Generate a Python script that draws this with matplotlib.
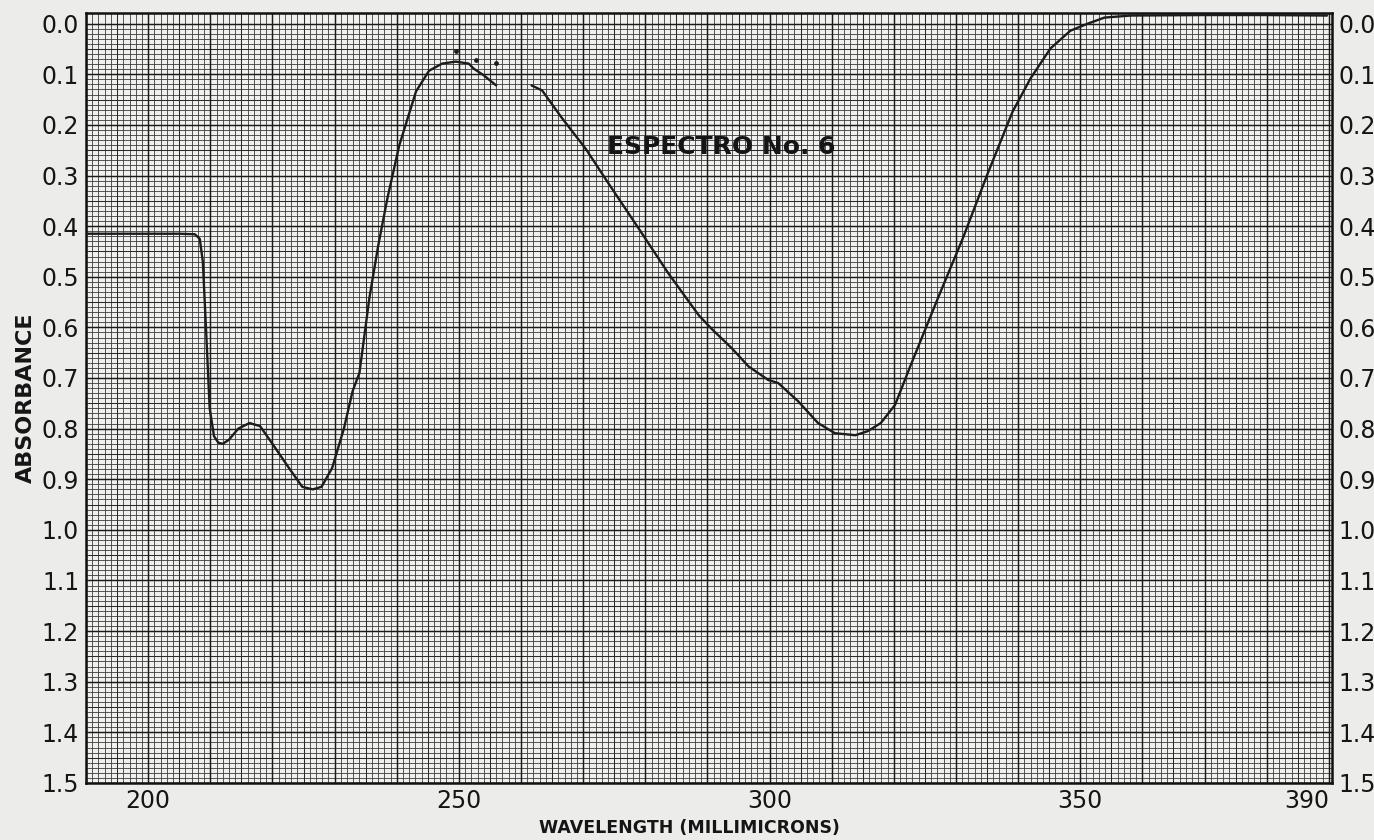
import matplotlib
matplotlib.use("Agg")
import matplotlib.pyplot as plt
import numpy as np

# trace (wavelength in nm, absorbance)
seg1_wl = [190.0, 205.0, 207.5, 208.3, 208.8, 209.3, 209.9, 210.6, 211.3, 212.0, 213.0,
           214.5, 216.3, 218.0, 220.0, 222.5, 224.8, 226.5, 227.9, 229.6, 231.5,
           232.9, 234.0, 235.6, 237.0, 238.5, 240.4, 243.1, 245.2, 247.3, 249.5,
           251.6, 252.4, 254.0, 256.0]
seg1_abs = [0.415, 0.415, 0.416, 0.425, 0.47, 0.60, 0.76, 0.815, 0.828, 0.83, 0.822,
            0.80, 0.789, 0.795, 0.83, 0.875, 0.915, 0.92, 0.915, 0.878, 0.80,
            0.726, 0.69, 0.542, 0.44, 0.345, 0.241, 0.134, 0.093, 0.079, 0.075,
            0.079, 0.089, 0.102, 0.122]

seg2_wl = [261.7, 263.4, 266.5, 270.4, 274.1, 278.9, 283.7, 288.6, 290.6, 293.9,
           296.6, 299.8, 301.4, 304.6, 307.8, 310.5, 313.8, 315.8, 317.9, 320.2,
           322.7, 327.1, 331.1, 335.1, 339.1, 342.0, 345.2, 348.4, 351.2, 353.9,
           358.1, 370.0, 380.0, 389.7]
seg2_abs = [0.122, 0.132, 0.185, 0.247, 0.316, 0.404, 0.493, 0.576, 0.602, 0.641,
            0.677, 0.704, 0.710, 0.746, 0.789, 0.809, 0.813, 0.805, 0.789, 0.753,
            0.675, 0.542, 0.424, 0.296, 0.174, 0.108, 0.049, 0.014, 0.0, -0.012,
            -0.016, -0.017, -0.017, -0.016]

# stray pen dots near the peak
dot_wl = [249.5, 252.8, 256.0]
dot_abs = [0.055, 0.071, 0.077]

x_ticks = [200, 250, 300, 350, 390]
y_ticks = [round(0.1 * i, 1) for i in range(16)]

paper = "#ececea"
ink = "#1c1c1c"

fig = plt.figure(figsize=(13.74, 8.4), dpi=100, facecolor=paper)
ax = fig.add_axes([0.0626, 0.0679, 0.9068, 0.9166])
ax.set_facecolor("#f0f0ee")
ax.set_xlim(190, 390.5)
ax.set_ylim(1.5, -0.021)

# graph paper grid: 1 nm / 0.01 fine, 5 / 0.05 medium, 10 / 0.1 heavy
ax.vlines(np.arange(190, 391, 1), -0.03, 1.55, color="#3c3c3c", lw=0.6, zorder=1)
ax.hlines(np.arange(0, 1.501, 0.01), 189, 392, color="#3c3c3c", lw=0.6, zorder=1)
ax.vlines(np.arange(195, 391, 10), -0.03, 1.55, color="#2a2a2a", lw=0.75, zorder=1)
ax.hlines(np.arange(0.05, 1.5, 0.1), 189, 392, color="#2a2a2a", lw=0.75, zorder=1)
ax.vlines(np.arange(190, 391, 10), -0.03, 1.55, color="#1a1a1a", lw=1.05, zorder=1)
ax.hlines(np.arange(0, 1.501, 0.1), 189, 392, color="#1a1a1a", lw=1.05, zorder=1)

ax.plot(seg1_wl, seg1_abs, color=ink, lw=1.7, zorder=3, solid_capstyle="round")
ax.plot(seg2_wl, seg2_abs, color=ink, lw=1.7, zorder=3, solid_capstyle="round")
ax.scatter(dot_wl, dot_abs, s=6, color=ink, zorder=3)

for s in ax.spines.values():
    s.set_linewidth(1.8)
    s.set_color("#111111")

ax.set_xticks(x_ticks)
ax.set_xticklabels([str(t) for t in x_ticks])
ax.get_xticklabels()[-1].set_ha("right")
ax.set_yticks(y_ticks)
ax.set_yticklabels([f"{t:.1f}" for t in y_ticks])
ax.tick_params(axis="both", length=0, labelsize=17, colors="#151515")
ax.tick_params(axis="x", pad=4)
ax.tick_params(axis="y", pad=5, right=True, labelright=True)

ax.set_ylabel("ABSORBANCE", fontsize=16, fontweight="bold", color="#151515", labelpad=4)
fig.text(0.502, 0.004, "WAVELENGTH (MILLIMICRONS)", fontsize=12.5, fontweight="bold",
         color="#151515", ha="center", va="bottom")
ax.text(273.8, 0.243, "ESPECTRO No. 6", fontsize=18, fontweight="bold", color="#151515",
        ha="left", va="center", zorder=4)

fig.savefig("out.png", dpi=100, facecolor=paper)
